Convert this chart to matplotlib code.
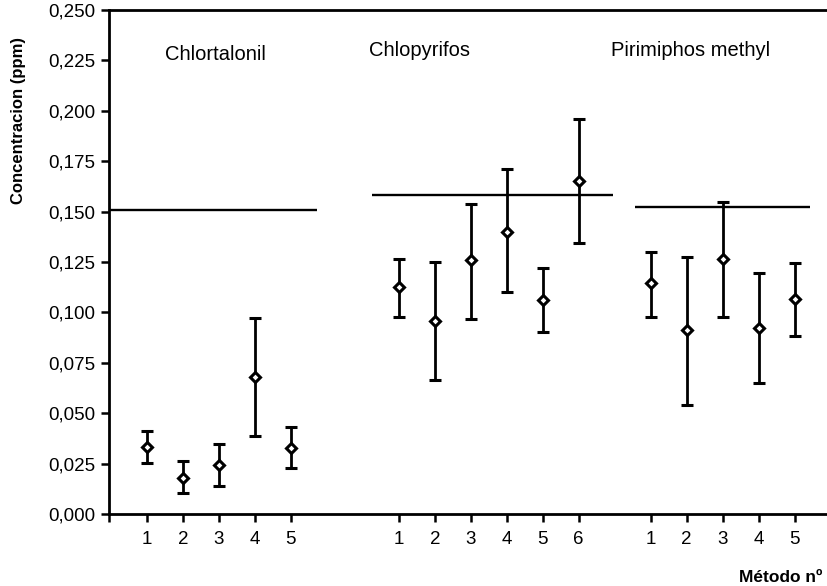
import matplotlib
matplotlib.use("Agg")
import matplotlib.pyplot as plt
from matplotlib.ticker import FuncFormatter, MultipleLocator

plt.rcParams['font.family'] = ['Liberation Sans', 'DejaVu Sans']

# ---- data ----
groups = ["Chlortalonil", "Chlopyrifos", "Pirimiphos methyl"]
methods = [[1, 2, 3, 4, 5], [1, 2, 3, 4, 5, 6], [1, 2, 3, 4, 5]]
means = [[0.0331, 0.0180, 0.0241, 0.0678, 0.0327],
         [0.1128, 0.0957, 0.1260, 0.1397, 0.1062, 0.1652],
         [0.1144, 0.0913, 0.1263, 0.0924, 0.1065]]
upper = [[0.0413, 0.0261, 0.0346, 0.0971, 0.0430],
         [0.1265, 0.1248, 0.1538, 0.1710, 0.1222, 0.1961],
         [0.1301, 0.1273, 0.1546, 0.1194, 0.1243]]
lower = [[0.0251, 0.0103, 0.0141, 0.0387, 0.0227],
         [0.0976, 0.0665, 0.0969, 0.1100, 0.0901, 0.1343],
         [0.0976, 0.0539, 0.0976, 0.0651, 0.0885]]
ref_values = [0.1509, 0.1581, 0.1523]

# ---- layout ----
group_start = [1, 8, 15]
ref_spans = [(-0.06, 5.72), (7.25, 13.94), (14.56, 19.44)]
title_pos = [(1.5, 0.2277), (7.17, 0.2300), (13.9, 0.2300)]
xmin, xmax = -0.056, 19.9

fig = plt.figure(figsize=(8.27, 5.86), dpi=100)
ax = fig.add_axes([109/827, 1 - 514/586, 1 - 109/827, 504/586])

xt, xl = [xmin], [""]
for g in range(3):
    xs = [group_start[g] + m - 1 for m in methods[g]]
    ys = means[g]
    yerr = [[m - l for m, l in zip(ys, lower[g])], [u - m for m, u in zip(ys, upper[g])]]
    ax.errorbar(xs, ys, yerr=yerr, fmt='D', color='black', mfc='white', mec='black',
                ms=5.0, mew=2.2, elinewidth=2.0, capsize=4, capthick=2.0, zorder=3)
    ax.hlines(ref_values[g], ref_spans[g][0], ref_spans[g][1], color='black', lw=1.7, zorder=2)
    ax.text(title_pos[g][0], title_pos[g][1], groups[g], fontsize=14.5, ha='left', va='center')
    xt += xs
    xl += [str(m) for m in methods[g]]

ax.set_xlim(xmin, xmax)
ax.set_ylim(0, 0.25)
ax.set_xticks(xt)
ax.set_xticklabels(xl)
ax.yaxis.set_major_locator(MultipleLocator(0.025))
ax.yaxis.set_major_formatter(FuncFormatter(lambda v, p: f"{v:.3f}".replace(".", ",")))

for s in ['left', 'top', 'bottom']:
    ax.spines[s].set_linewidth(2.0)
ax.spines['right'].set_visible(False)
ax.tick_params(axis='both', direction='out', length=6, width=1.8, labelsize=13.5, pad=4)
ax.tick_params(axis='x', pad=6)

fig.text(19/827, 1 - 121/586, "Concentracion (ppm)", rotation=90,
         ha='center', va='center', fontsize=12, fontweight='bold')
fig.text(822/827, 1 - 577/586, "Método nº", ha='right', va='center', fontsize=12.5, fontweight='bold')

fig.savefig("out.png", dpi=100)
